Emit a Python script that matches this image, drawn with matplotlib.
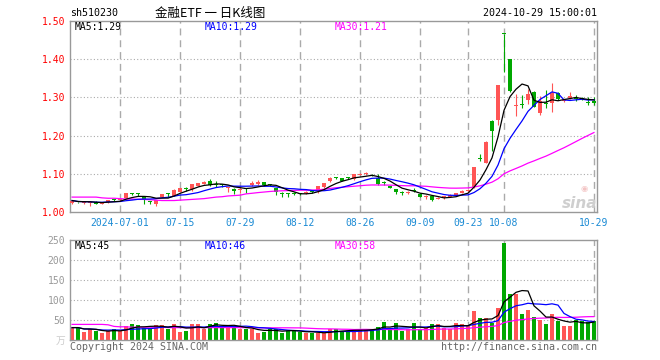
import matplotlib
matplotlib.use("Agg")
import matplotlib.pyplot as plt
import numpy as np
import pandas as pd

plt.rcParams['font.family'] = ['DejaVu Sans Mono', 'Noto Sans CJK SC']

# sh510230 daily bars, 2024-06-19 .. 2024-10-29 (88 trading days)
opens = [1.023, 1.026, 1.023, 1.023, 1.027, 1.022, 1.025, 1.032, 1.031, 1.037,
         1.048, 1.047, 1.039, 1.028, 1.022, 1.040, 1.047, 1.043, 1.053, 1.060,
         1.059, 1.069, 1.074, 1.081, 1.073, 1.071, 1.062, 1.060, 1.058, 1.060,
         1.070, 1.072, 1.078, 1.072, 1.063, 1.047, 1.047, 1.049, 1.049, 1.049,
         1.054, 1.056, 1.065, 1.080, 1.090, 1.089, 1.089, 1.086, 1.098, 1.099,
         1.098, 1.090, 1.076, 1.068, 1.060, 1.050, 1.050, 1.057, 1.048, 1.039,
         1.042, 1.035, 1.038, 1.040, 1.043, 1.050, 1.056, 1.066, 1.141, 1.128,
         1.238, 1.241, 1.466, 1.400, 1.278, 1.281, 1.293, 1.314, 1.258, 1.284,
         1.285, 1.311, 1.290, 1.299, 1.298, 1.297, 1.286, 1.290]
highs = [1.032, 1.027, 1.027, 1.027, 1.028, 1.026, 1.032, 1.033, 1.034, 1.050,
         1.049, 1.049, 1.040, 1.030, 1.032, 1.048, 1.049, 1.059, 1.063, 1.065,
         1.074, 1.077, 1.081, 1.087, 1.080, 1.074, 1.066, 1.062, 1.062, 1.062,
         1.080, 1.085, 1.079, 1.074, 1.064, 1.052, 1.050, 1.052, 1.050, 1.054,
         1.056, 1.068, 1.076, 1.092, 1.092, 1.090, 1.091, 1.100, 1.101, 1.104,
         1.099, 1.099, 1.080, 1.069, 1.061, 1.056, 1.054, 1.062, 1.049, 1.044,
         1.043, 1.038, 1.041, 1.046, 1.050, 1.057, 1.060, 1.119, 1.152, 1.186,
         1.240, 1.333, 1.466, 1.401, 1.309, 1.305, 1.322, 1.316, 1.304, 1.319,
         1.339, 1.313, 1.296, 1.314, 1.305, 1.302, 1.300, 1.300]
lows = [1.021, 1.023, 1.020, 1.017, 1.020, 1.021, 1.024, 1.029, 1.029, 1.036,
        1.045, 1.042, 1.020, 1.020, 1.016, 1.039, 1.040, 1.042, 1.052, 1.055,
        1.056, 1.068, 1.073, 1.068, 1.066, 1.065, 1.052, 1.048, 1.050, 1.050,
        1.069, 1.071, 1.069, 1.068, 1.045, 1.040, 1.040, 1.044, 1.045, 1.048,
        1.050, 1.050, 1.064, 1.078, 1.086, 1.081, 1.086, 1.085, 1.096, 1.097,
        1.093, 1.071, 1.070, 1.062, 1.048, 1.044, 1.048, 1.052, 1.038, 1.035,
        1.028, 1.033, 1.035, 1.039, 1.042, 1.049, 1.053, 1.064, 1.133, 1.127,
        1.160, 1.229, 1.367, 1.313, 1.252, 1.272, 1.282, 1.275, 1.255, 1.272,
        1.262, 1.293, 1.288, 1.297, 1.290, 1.292, 1.280, 1.280]
closes = [1.030, 1.025, 1.026, 1.026, 1.021, 1.025, 1.031, 1.031, 1.032, 1.049,
          1.046, 1.046, 1.031, 1.027, 1.031, 1.047, 1.046, 1.058, 1.062, 1.059,
          1.073, 1.075, 1.079, 1.070, 1.071, 1.070, 1.064, 1.054, 1.060, 1.059,
          1.077, 1.078, 1.070, 1.071, 1.053, 1.046, 1.046, 1.048, 1.046, 1.052,
          1.053, 1.067, 1.075, 1.089, 1.089, 1.082, 1.088, 1.099, 1.099, 1.100,
          1.094, 1.072, 1.075, 1.064, 1.052, 1.049, 1.051, 1.056, 1.039, 1.040,
          1.031, 1.036, 1.039, 1.045, 1.049, 1.056, 1.057, 1.118, 1.139, 1.184,
          1.211, 1.332, 1.465, 1.318, 1.281, 1.279, 1.308, 1.276, 1.291, 1.283,
          1.311, 1.295, 1.292, 1.304, 1.297, 1.296, 1.285, 1.285]
volumes = [31, 31, 21, 27, 23, 17, 23, 28, 23, 35,
           40, 37.5, 29, 29, 37.5, 37.5, 28, 40, 21, 23,
           40, 40, 28, 40, 42.5, 33, 37.5, 31, 26.7, 28,
           26.7, 18, 21, 26.7, 26.7, 18, 23, 23, 21, 18,
           18, 16.7, 16.7, 27, 27, 23, 23, 21, 28, 28,
           28, 33, 45.8, 27, 41.7, 23, 28, 41.7, 27, 31,
           40, 40, 31, 28, 41.7, 40, 37.5, 72.5, 56, 54,
           43, 80, 243, 115, 115, 65, 75, 56.7, 50, 40,
           65, 48, 35, 35, 50, 48, 45, 47]

# MA30 values at the start of the window (earlier history not shown)
ma30_head = [1.039, 1.039, 1.039, 1.039, 1.039, 1.037, 1.036, 1.036, 1.035,
             1.034, 1.034, 1.033, 1.033, 1.032, 1.031, 1.030, 1.030, 1.030,
             1.031, 1.032, 1.033, 1.034, 1.035, 1.037, 1.039, 1.040, 1.042,
             1.043, 1.044]
vol_ma30_head = [39, 39, 39, 39, 39, 39, 38, 34, 33, 33, 32, 32, 32, 32, 32,
                 32, 31, 31, 31, 31, 31, 31, 31, 31, 31, 31, 31, 31, 31]

tick_bars = [8, 18, 28, 38, 48, 58, 66, 72, 87]
tick_labels = ['2024-07-01', '07-15', '07-29', '08-12', '08-26', '09-09',
               '09-23', '10-08', '10-29']
price_ticks = [1.00, 1.10, 1.20, 1.30, 1.40, 1.50]
vol_ticks = [0, 50, 100, 150, 200, 250]

RED = '#ff5555'
GREEN = '#00a800'
GRID = '#aaaaaa'
FRAME = '#999999'
BLUE_TXT = '#1a8ad4'

W, H = 660, 360


def px_rect(left, top, right, bottom):
    return [left / W, 1 - bottom / H, (right - left) / W, (bottom - top) / H]


def fig_xy(x, y):
    return x / W, 1 - y / H


o = np.array(opens)
h = np.array(highs)
l = np.array(lows)
c = np.array(closes)
v = np.array(volumes)
x = np.arange(len(c))
colors = np.where(c >= o, RED, GREEN)

cs = pd.Series(c)
ma5 = cs.rolling(5, min_periods=1).mean()
ma10 = cs.rolling(10, min_periods=1).mean()
ma30 = cs.rolling(30).mean()
ma30.iloc[:len(ma30_head)] = ma30_head

vs = pd.Series(v)
vma5 = vs.rolling(5, min_periods=1).mean()
vma10 = vs.rolling(10, min_periods=1).mean()
vma30 = vs.rolling(30).mean()
vma30.iloc[:len(vol_ma30_head)] = vol_ma30_head

fig = plt.figure(figsize=(6.6, 3.6), dpi=100)
ax_k = fig.add_axes(px_rect(70, 21, 597, 212))
ax_v = fig.add_axes(px_rect(70, 240, 597, 340))

for ax in (ax_k, ax_v):
    ax.set_xlim(-0.35, 87.5)
    for s in ax.spines.values():
        s.set_color(FRAME)
        s.set_linewidth(1.0)
    for b in tick_bars:
        ax.axvline(b, color=GRID, lw=1.0, ls=(0, (5, 3.5)), zorder=0)

# --- price panel
ax_k.set_ylim(1.0, 1.5)
for p in price_ticks[1:-1]:
    ax_k.axhline(p, color=GRID, lw=0.8, ls=(0, (1, 2)), zorder=0)

ax_k.vlines(x, l, h, colors=colors, lw=0.8, zorder=2)
body = np.maximum(np.abs(c - o), 0.0026)
ax_k.bar(x, body, bottom=np.minimum(o, c), width=0.8, color=colors, lw=0, zorder=3)

ax_k.plot(x, ma30, color='#ff00ff', lw=0.9, zorder=4)
ax_k.plot(x, ma10, color='#0000ff', lw=0.9, zorder=4)
ax_k.plot(x, ma5, color='black', lw=0.9, zorder=5)

ax_k.set_yticks(price_ticks)
ax_k.set_yticklabels([f'{p:.2f}' for p in price_ticks])
ax_k.set_xticks(tick_bars)
ax_k.set_xticklabels(tick_labels)
ax_k.tick_params(axis='y', length=0, pad=3.5, labelcolor='red', labelsize=7)
ax_k.tick_params(axis='x', length=0, pad=4, labelcolor=BLUE_TXT, labelsize=7)

# --- volume panel
ax_v.set_ylim(0, 250)
for t in vol_ticks[1:-1]:
    ax_v.axhline(t, color=GRID, lw=0.8, ls=(0, (1, 2)), zorder=0)
ax_v.bar(x, v, width=0.8, color=colors, lw=0, zorder=2)
ax_v.plot(x, vma30, color='#ff00ff', lw=0.9, zorder=4)
ax_v.plot(x, vma10, color='#0000ff', lw=0.9, zorder=4)
ax_v.plot(x, vma5, color='black', lw=0.9, zorder=5)

ax_v.set_xticks([])
ax_v.set_yticks(vol_ticks)
ax_v.set_yticklabels(['万'] + [str(t) for t in vol_ticks[1:]])
ax_v.tick_params(axis='y', length=0, pad=3.5, labelcolor='#999999', labelsize=7)
ax_v.get_yticklabels()[0].set_color('#cccccc')

# --- texts
fig.text(*fig_xy(70, 13), 'sh510230', fontsize=7.2, ha='left', va='center')
fig.text(*fig_xy(210, 13), '金融ETF 一 日K线图', fontsize=9,
         family=['Noto Sans CJK SC'], ha='center', va='center')
fig.text(*fig_xy(597, 13), '2024-10-29 15:00:01', fontsize=7.2,
         ha='right', va='center')

fig.text(*fig_xy(75, 27), f'MA5:{ma5.iloc[-1]:.2f}', fontsize=7, va='center')
fig.text(*fig_xy(205, 27), f'MA10:{ma10.iloc[-1]:.2f}', fontsize=7,
         color='#0000ff', va='center')
fig.text(*fig_xy(335, 27), f'MA30:{ma30.iloc[-1]:.2f}', fontsize=7,
         color='#ff00ff', va='center')

fig.text(*fig_xy(75, 246), f'MA5:{vma5.iloc[-1]:.0f}', fontsize=7, va='center')
fig.text(*fig_xy(205, 246), f'MA10:{vma10.iloc[-1]:.0f}', fontsize=7,
         color='#0000ff', va='center')
fig.text(*fig_xy(335, 246), f'MA30:{vma30.iloc[-1]:.0f}', fontsize=7,
         color='#ff00ff', va='center')

fig.text(*fig_xy(70, 347), 'Copyright 2024 SINA.COM', fontsize=7.2,
         color='#666666', ha='left', va='center')
fig.text(*fig_xy(597, 347), 'http://finance.sina.com.cn', fontsize=7.2,
         color='#666666', ha='right', va='center')

# sina watermark
fig.text(*fig_xy(580, 204), 'sina', fontsize=11, fontstyle='italic',
         fontweight='bold', family='DejaVu Sans', color='#cfcfcf',
         ha='center', va='center')
fig.text(*fig_xy(584, 189), '◉', fontsize=6, family='DejaVu Sans',
         color='#f3c4c4', ha='center', va='center')

fig.savefig('out.png', dpi=100, facecolor='white')
